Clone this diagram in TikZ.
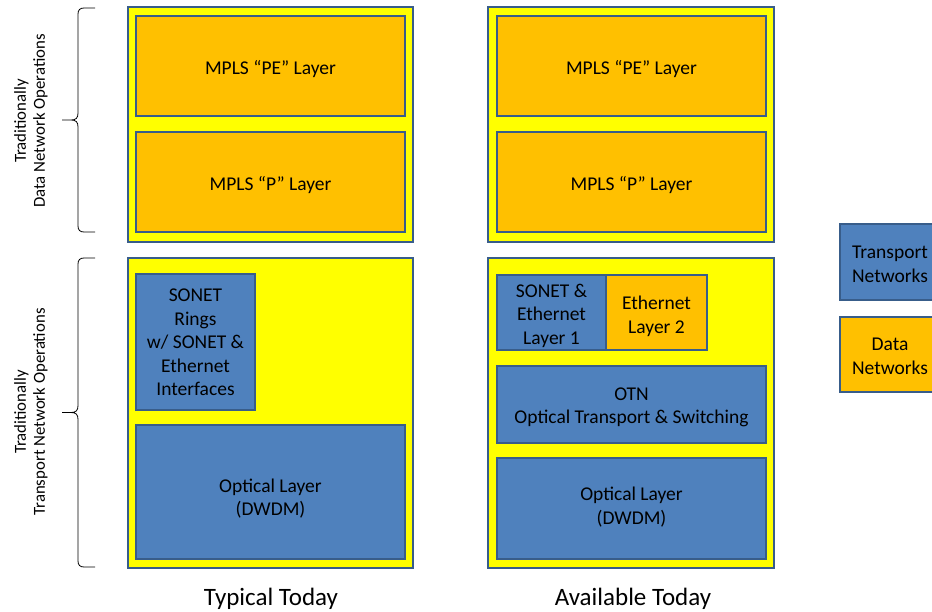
\documentclass[tikz,border=0pt]{standalone}
\usepackage{fontspec}
\setmainfont{Carlito}
\definecolor{ybg}{HTML}{FFFF00}
\definecolor{obg}{HTML}{FFC000}
\definecolor{bbg}{HTML}{4F81BD}
\definecolor{bdr}{HTML}{385D8A}
\begin{document}
\begin{tikzpicture}[x=1pt,y=-1pt,
  lay/.style={draw=bdr, line width=2.4pt, inner sep=0pt},
  ybox/.style={lay, fill=ybg},
  obox/.style={lay, fill=obg},
  bbox/.style={lay, fill=bbg},
  sz/.style 2 args={minimum width=#1pt, minimum height=#2pt},
  txt/.style={inner sep=0pt, align=center, font=\fontsize{19.5}{23.5}\selectfont},
  bracestyle/.style={draw=black, line width=0.8pt},
  sidelbl/.style={rotate=90, align=center, font=\fontsize{16.8}{19}\selectfont},
  botlbl/.style={inner sep=0pt, font=\fontsize{25}{28}\selectfont}]
\clip (0,0) rectangle (932,611);
\fill[white] (0,0) rectangle (932,611);
% yellow frames
\node[ybox, sz={285}{235}] (ytl) at (270.5,124.5) {};
\node[ybox, sz={286}{235}] (ytr) at (631,124.5) {};
\node[ybox, sz={285}{310}] (ybl) at (270.5,413) {};
\node[ybox, sz={286}{310}] (ybr) at (631,413) {};
% MPLS layers
\node[obox, sz={269}{100}] (pel) at (270.5,66) {};
\node[txt] (pelt) at ([yshift=-3pt]pel.center) {MPLS “PE” Layer};
\node[obox, sz={269}{100}] (pl) at (270.5,182) {};
\node[txt] (plt) at ([yshift=-3pt]pl.center) {MPLS “P” Layer};
\node[obox, sz={269}{100}] (per) at (631.5,66) {};
\node[txt] (pert) at ([yshift=-3pt]per.center) {MPLS “PE” Layer};
\node[obox, sz={269}{100}] (pr) at (631.5,182) {};
\node[txt] (prt) at ([yshift=-3pt]pr.center) {MPLS “P” Layer};
% typical today transport
\node[bbox, sz={119}{136}] (sonet) at (195.5,342) {};
\node[txt] (sonett) at ([yshift=-0.5pt]sonet.center) {SONET\\Rings\\w/ SONET \&\\Ethernet\\Interfaces};
\node[bbox, sz={269}{134}] (optl) at (270.5,492) {};
\node[txt] (optlt) at ([yshift=-6.5pt]optl.center) {Optical Layer\\(DWDM)};
% available today transport
\node[bbox, sz={109}{75}] (l1) at (551.5,312.5) {};
\node[txt] (l1t) at ([yshift=-3pt]l1.center) {SONET \&\\Ethernet\\Layer 1};
\node[obox, sz={101}{75}] (l2) at (656.5,312.5) {};
\node[txt] (l2t) at ([yshift=-4pt]l2.center) {Ethernet\\Layer 2};
\node[bbox, sz={269}{77}] (otn) at (631.5,404.5) {};
\node[txt] (otnt) at ([yshift=-3pt]otn.center) {OTN\\Optical Transport \& Switching};
\node[bbox, sz={269}{101}] (optr) at (631.5,508.5) {};
\node[txt] (optrt) at ([yshift=1.5pt]optr.center) {Optical Layer\\(DWDM)};
% legend
\node[bbox, sz={96}{76}] (legt) at (888,262) {};
\node[txt] (legtt) at ([xshift=2pt,yshift=-2.5pt]legt.center) {Transport\\Networks};
\node[obox, sz={96}{75}] (legd) at (888,354.5) {};
\node[txt] (legdt) at ([xshift=2pt,yshift=-2pt]legd.center) {Data\\Networks};
% braces
\coordinate (b1t) at (95,8);
\coordinate (b1m) at (62,120);
\coordinate (b1b) at (95,232);
\coordinate (b2t) at (95,258);
\coordinate (b2m) at (62,412.5);
\coordinate (b2b) at (95,567);
\draw[bracestyle] (b1t) -- (84,8) .. controls (80,8) and (78,10) .. (78,14)
  -- (78,113) .. controls (78,118) and (76,120) .. (71,120) -- (b1m)
  (71,120) .. controls (76,120) and (78,122) .. (78,127)
  -- (78,226) .. controls (78,230) and (80,232) .. (84,232) -- (b1b);
\draw[bracestyle] (b2t) -- (84,258) .. controls (80,258) and (78,260) .. (78,264)
  -- (78,405.5) .. controls (78,410.5) and (76,412.5) .. (71,412.5) -- (b2m)
  (71,412.5) .. controls (76,412.5) and (78,414.5) .. (78,419.5)
  -- (78,561) .. controls (78,565) and (80,567) .. (84,567) -- (b2b);
\node[sidelbl] (sl1) at (31,121) {Traditionally\\Data Network Operations};
\node[sidelbl] (sl2) at (31,412) {Traditionally\\Transport Network Operations};
% bottom labels
\node[botlbl] (lt) at (271,598.5) {Typical Today};
\node[botlbl] (la) at (633,598.5) {Available Today};
\end{tikzpicture}
\end{document}
